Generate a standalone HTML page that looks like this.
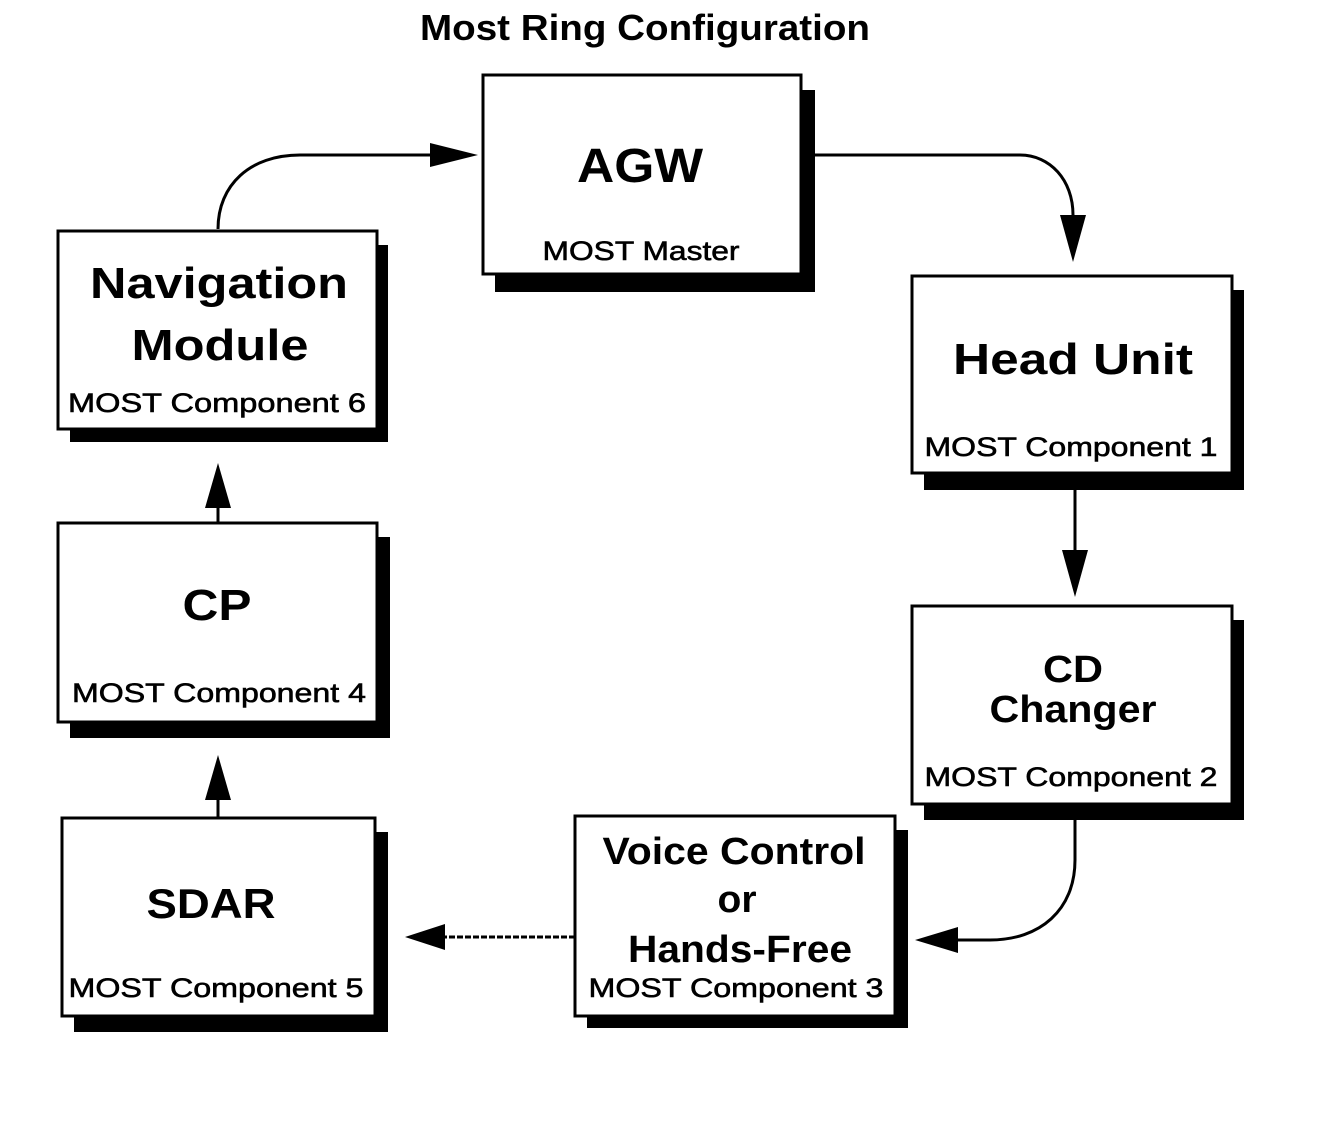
<!DOCTYPE html>
<html><head><meta charset="utf-8"><style>
html,body{margin:0;padding:0;background:#fff;}
svg{display:block;}
text{font-family:"Liberation Sans",sans-serif;fill:#000;text-anchor:middle;}
.t{font-weight:bold;}
.s{font-size:27px;stroke:#000;stroke-width:0.6;}
</style></head><body>
<svg width="1328" height="1144" viewBox="0 0 1328 1144" xmlns="http://www.w3.org/2000/svg">
<text x="645" y="40" class="t" font-size="36" textLength="450" lengthAdjust="spacingAndGlyphs">Most Ring Configuration</text>

<g fill="#000">
<rect x="495" y="90" width="320" height="202"/>
<rect x="70" y="245" width="318" height="197"/>
<rect x="924" y="290" width="320" height="200"/>
<rect x="70" y="537" width="320" height="201"/>
<rect x="924" y="620" width="320" height="200"/>
<rect x="74" y="832" width="314" height="200"/>
<rect x="587" y="830" width="321" height="198"/>
</g>
<g fill="#fff" stroke="#000" stroke-width="3">
<rect x="483" y="75" width="318" height="199"/>
<rect x="58" y="231" width="319" height="198"/>
<rect x="912" y="276" width="320" height="197"/>
<rect x="58" y="523" width="319" height="199"/>
<rect x="912" y="606" width="320" height="198"/>
<rect x="62" y="818" width="313" height="198"/>
<rect x="575" y="816" width="320" height="200"/>
</g>

<g fill="none" stroke="#000" stroke-width="3">
<path d="M218,229 C218,185 250,155 300,155 L440,155"/>
<path d="M815,155 L1020,155 C1050,155 1073,180 1073,215"/>
<path d="M1075,490 L1075,552"/>
<path d="M1075,820 L1075,860 C1075,910 1040,940 990,940 L955,940"/>
<path d="M575,937 L445,937" stroke-dasharray="6,2"/>
<path d="M218,817 L218,800"/>
<path d="M218,522 L218,508"/>
</g>
<g fill="#000">
<polygon points="430,143 478,155 430,167"/>
<polygon points="1060,215 1073,262 1086,215"/>
<polygon points="1062,550 1075,597 1088,550"/>
<polygon points="958,927 915,940 958,953"/>
<polygon points="445,924 405,937 445,950"/>
<polygon points="205,800 218,755 231,800"/>
<polygon points="205,508 218,463 231,508"/>
</g>

<text x="640" y="182" class="t" font-size="48" textLength="126" lengthAdjust="spacingAndGlyphs">AGW</text>
<text x="641" y="260" class="s" textLength="197" lengthAdjust="spacingAndGlyphs">MOST Master</text>

<text x="219" y="298" class="t" font-size="44" textLength="258" lengthAdjust="spacingAndGlyphs">Navigation</text>
<text x="220" y="360" class="t" font-size="44" textLength="177" lengthAdjust="spacingAndGlyphs">Module</text>
<text x="217" y="412" class="s" textLength="298" lengthAdjust="spacingAndGlyphs">MOST Component 6</text>

<text x="1073" y="374" class="t" font-size="44" textLength="240" lengthAdjust="spacingAndGlyphs">Head Unit</text>
<text x="1071" y="456" class="s" textLength="293" lengthAdjust="spacingAndGlyphs">MOST Component 1</text>

<text x="217" y="620" class="t" font-size="44" textLength="69" lengthAdjust="spacingAndGlyphs">CP</text>
<text x="219" y="702" class="s" textLength="294" lengthAdjust="spacingAndGlyphs">MOST Component 4</text>

<text x="1073" y="682" class="t" font-size="38" textLength="60" lengthAdjust="spacingAndGlyphs">CD</text>
<text x="1073" y="722" class="t" font-size="38" textLength="167" lengthAdjust="spacingAndGlyphs">Changer</text>
<text x="1071" y="786" class="s" textLength="293" lengthAdjust="spacingAndGlyphs">MOST Component 2</text>

<text x="734" y="864" class="t" font-size="38" textLength="263" lengthAdjust="spacingAndGlyphs">Voice Control</text>
<text x="737" y="912" class="t" font-size="38" textLength="39" lengthAdjust="spacingAndGlyphs">or</text>
<text x="740" y="962" class="t" font-size="38" textLength="224" lengthAdjust="spacingAndGlyphs">Hands-Free</text>
<text x="736" y="997" class="s" textLength="295" lengthAdjust="spacingAndGlyphs">MOST Component 3</text>

<text x="211" y="918" class="t" font-size="42" textLength="129" lengthAdjust="spacingAndGlyphs">SDAR</text>
<text x="216" y="997" class="s" textLength="295" lengthAdjust="spacingAndGlyphs">MOST Component 5</text>
</svg>
</body></html>
